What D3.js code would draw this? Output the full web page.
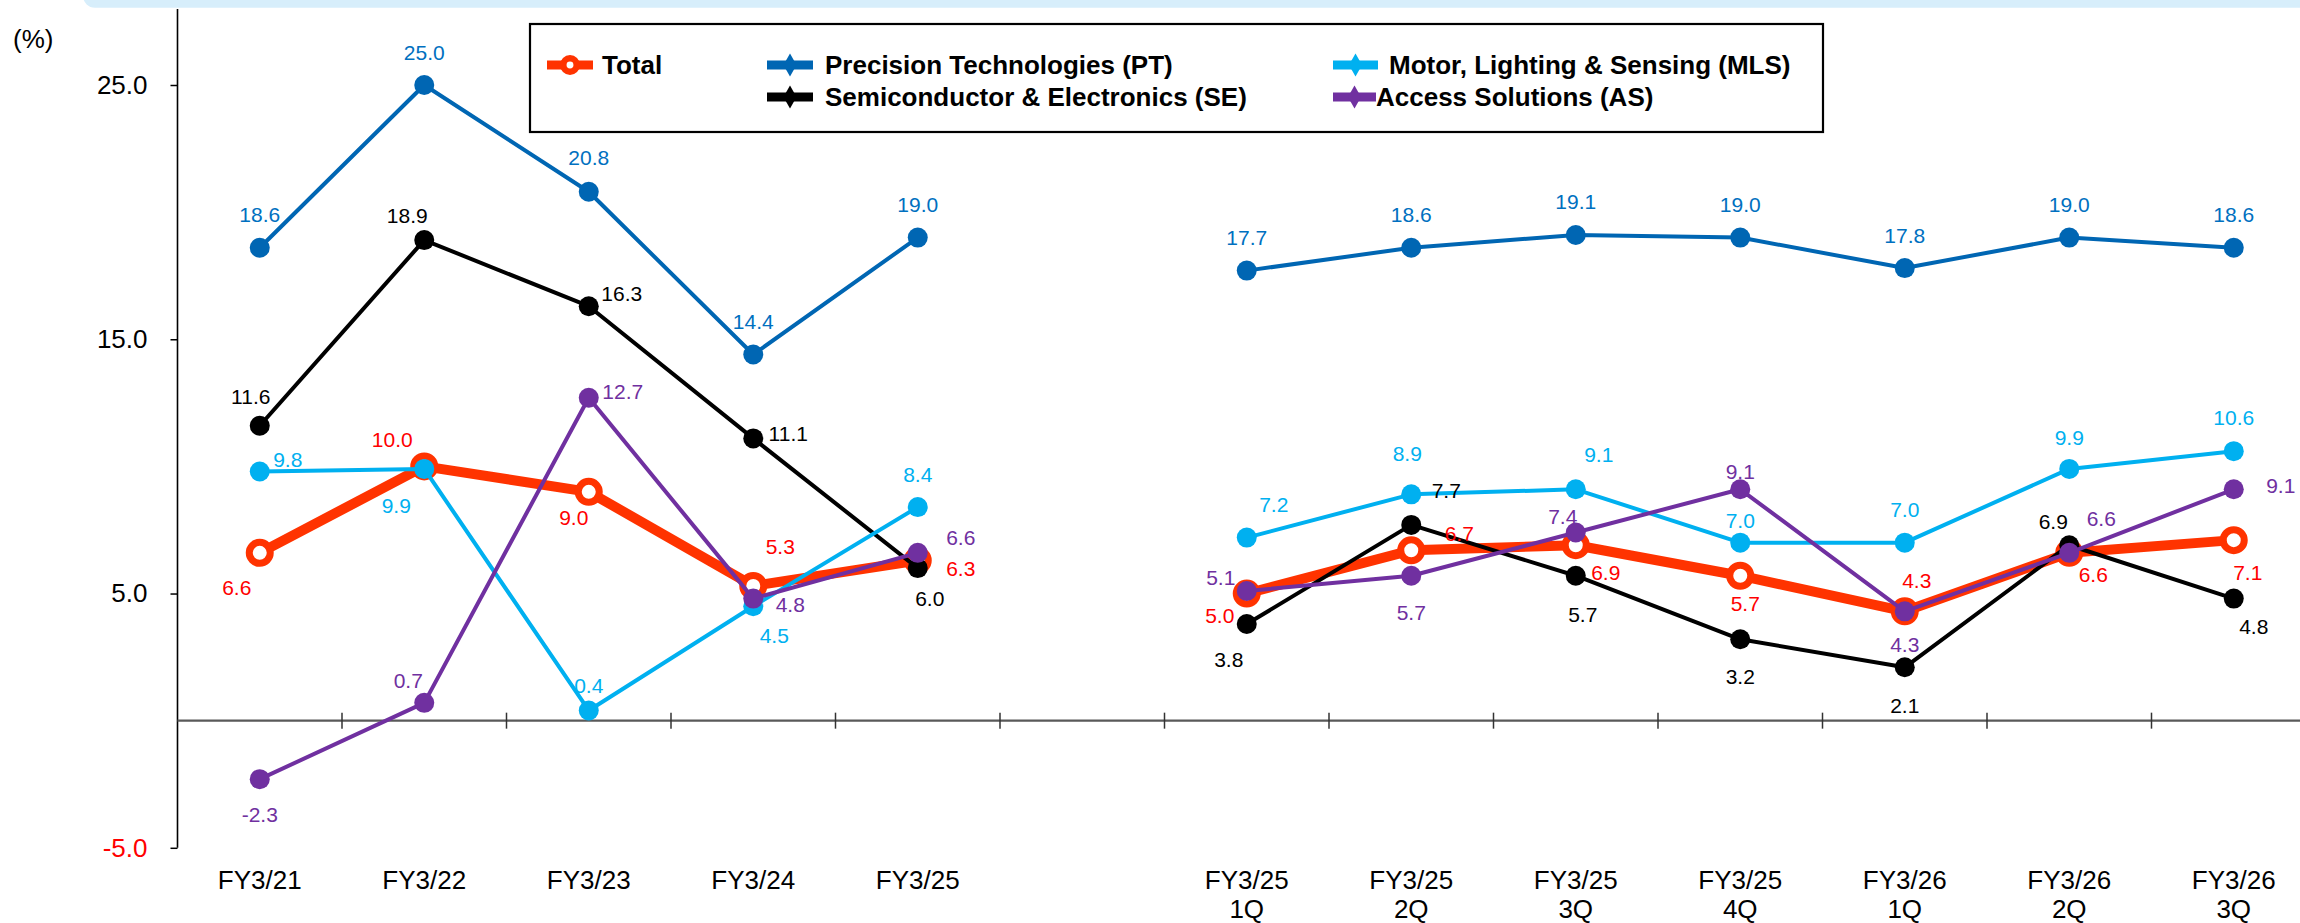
<!DOCTYPE html>
<html><head><meta charset="utf-8">
<script src="https://cdn.jsdelivr.net/npm/d3@7"></script>
<style>html,body{margin:0;padding:0;background:#fff;overflow:hidden}</style>
</head><body>
<svg id="chart" width="2300" height="923"></svg>
<script>
// ---------------- DATA ----------------
const categories = ["FY3/21","FY3/22","FY3/23","FY3/24","FY3/25","gap",
  "FY3/25 1Q","FY3/25 2Q","FY3/25 3Q","FY3/25 4Q","FY3/26 1Q","FY3/26 2Q","FY3/26 3Q"];
const categoryLabels = [["FY3/21"],["FY3/22"],["FY3/23"],["FY3/24"],["FY3/25"],[],
  ["FY3/25","1Q"],["FY3/25","2Q"],["FY3/25","3Q"],["FY3/25","4Q"],["FY3/26","1Q"],["FY3/26","2Q"],["FY3/26","3Q"]];
const totalValues = [6.6,10.0,9.0,5.3,6.3,null,5.0,6.7,6.9,5.7,4.3,6.6,7.1];
const ptValues    = [18.6,25.0,20.8,14.4,19.0,null,17.7,18.6,19.1,19.0,17.8,19.0,18.6];
const seValues    = [11.6,18.9,16.3,11.1,6.0,null,3.8,7.7,5.7,3.2,2.1,6.9,4.8];
const mlsValues   = [9.8,9.9,0.4,4.5,8.4,null,7.2,8.9,9.1,7.0,7.0,9.9,10.6];
const asValues    = [-2.3,0.7,12.7,4.8,6.6,null,5.1,5.7,7.4,9.1,4.3,6.6,9.1];
const yTickValues = [-5,5,15,25];
const seriesNames = ["Total","Precision Technologies (PT)","Semiconductor & Electronics (SE)",
  "Motor, Lighting & Sensing (MLS)","Access Solutions (AS)"];
const unitLabel = "(%)";

// ---------------- LAYOUT / STYLE ----------------
const W = 2300, H = 923;
const FONT = "'Liberation Sans', Arial, Helvetica, sans-serif";
const styles = {
  Total: {line:"#FF3300", label:"#FF0000", width:10, open:true},
  PT:    {line:"#0066B3", label:"#0070C0", width:4},
  SE:    {line:"#000000", label:"#000000", width:4},
  MLS:   {line:"#00B0F0", label:"#00B0F0", width:4},
  AS:    {line:"#7030A0", label:"#7030A0", width:4}
};
// label offsets (dx, dy of text centre from the point)
const labelOffsets = {
  Total: [[-23,35],[-32,-27],[-15,26],[27,-39],[43,8],null,[-27,22],[48,-17],[30,27],[5,28],[12,-31],[24,22],[14,32]],
  PT:    [[0,-33],[0,-33],[0,-34],[0,-33],[0,-33],null,[0,-33],[0,-33],[0,-34],[0,-33],[0,-33],[0,-33],[0,-33]],
  SE:    [[-9,-29],[-17,-25],[33,-13],[35,-5],[12,30],null,[-18,35],[35,-34],[7,39],[0,37],[0,38],[-16,-24],[20,28]],
  MLS:   [[28,-12],[-28,36],[0,-25],[21,29],[0,-33],null,[27,-33],[-4,-41],[23,-35],[0,-22],[0,-33],[0,-32],[0,-34]],
  AS:    [[0,35],[-16,-22],[34,-6],[37,6],[43,-15],null,[-26,-14],[0,37],[-13,-16],[0,-18],[0,33],[32,-34],[47,-4]]
};

const svg = d3.select("#chart");

// top banner
svg.append("rect").attr("x",83).attr("y",-30).attr("width",2300).attr("height",37.7)
  .attr("rx",12).attr("fill","#D7EEFB");

const x = d3.scaleBand().domain(categories).range([177.5, 177.5 + 164.5*categories.length]).padding(0);
const y = d3.scaleLinear().domain([-5,25]).range([847.8,85]);
const cx = c => x(c) + x.bandwidth()/2;

// y axis
const yAxisG = svg.append("g").attr("transform","translate(177.5,0)")
  .call(d3.axisLeft(y).tickValues(yTickValues).tickSize(7).tickPadding(23)
    .tickFormat(d => d.toFixed(1)));
yAxisG.select(".domain").remove();
yAxisG.selectAll(".tick line").attr("stroke","#000").attr("stroke-width",1.5);
yAxisG.selectAll(".tick text").attr("font-family",FONT).attr("font-size",26)
  .attr("fill", d => d < 0 ? "#FF0000" : "#000");
svg.append("line").attr("x1",177.5).attr("x2",177.5).attr("y1",9).attr("y2",y(-5))
  .attr("stroke","#000").attr("stroke-width",1.6);

svg.append("text").attr("x",13).attr("y",48).attr("font-family",FONT).attr("font-size",26)
  .text(unitLabel);

// x axis at zero
const y0 = y(0);
svg.append("line").attr("x1",177.5).attr("x2",W).attr("y1",y0).attr("y2",y0)
  .attr("stroke","#595959").attr("stroke-width",2.2);
svg.append("g").selectAll("line").data(categories.slice(1)).join("line")
  .attr("x1",d=>x(d)).attr("x2",d=>x(d)).attr("y1",y0-8).attr("y2",y0+8)
  .attr("stroke","#333").attr("stroke-width",1.5);
const xl = svg.append("g").selectAll("text").data(categories).join("text")
  .attr("x",d=>cx(d)).attr("y",889).attr("text-anchor","middle")
  .attr("font-family",FONT).attr("font-size",26).attr("fill","#000");
xl.each(function(d,i){
  const t = d3.select(this);
  categoryLabels[i].forEach((s,j)=>{
    t.append("tspan").attr("x",cx(d)).attr("dy", j===0?0:29).text(s);
  });
});

// series
const series = [
  {key:"Total", values: totalValues},
  {key:"PT", values: ptValues},
  {key:"SE", values: seValues},
  {key:"MLS", values: mlsValues},
  {key:"AS", values: asValues}
];
const line = d3.line().defined(d => d.v != null).x(d => cx(d.c)).y(d => y(d.v));

series.forEach(s => {
  const st = styles[s.key];
  const pts = s.values.map((v,i)=>({c:categories[i], v}));
  const g = svg.append("g");
  g.append("path").datum(pts).attr("d",line).attr("fill","none")
    .attr("stroke",st.line).attr("stroke-width",st.width).attr("stroke-linejoin","round");
  g.selectAll("circle").data(pts.filter(d=>d.v!=null)).join("circle")
    .attr("cx",d=>cx(d.c)).attr("cy",d=>y(d.v))
    .attr("r", st.open ? 10.5 : 10)
    .attr("fill", st.open ? "#fff" : st.line)
    .attr("stroke", st.open ? st.line : "none")
    .attr("stroke-width", st.open ? 7 : 0);
});

// labels on top
series.forEach(s => {
  const st = styles[s.key];
  const offs = labelOffsets[s.key];
  const pts = s.values.map((v,i)=>({c:categories[i], v, o:offs[i]})).filter(d=>d.v!=null);
  svg.append("g").selectAll("text").data(pts).join("text")
    .attr("x",d=>cx(d.c)+d.o[0]).attr("y",d=>y(d.v)+d.o[1])
    .attr("dy","0.36em").attr("text-anchor","middle")
    .attr("font-family",FONT).attr("font-size",21).attr("fill",st.label)
    .text(d=>d.v.toFixed(1));
});

// legend
const legendItems = [
  {key:"Total", name:seriesNames[0], x1:547, x2:593, tx:602, ty:65},
  {key:"PT",    name:seriesNames[1], x1:767, x2:813, tx:825, ty:65},
  {key:"SE",    name:seriesNames[2], x1:767, x2:813, tx:825, ty:97},
  {key:"MLS",   name:seriesNames[3], x1:1333, x2:1378, tx:1389, ty:65},
  {key:"AS",    name:seriesNames[4], x1:1333, x2:1376, tx:1376, ty:97}
];
svg.append("rect").attr("x",530).attr("y",24).attr("width",1293).attr("height",108)
  .attr("fill","#fff").attr("stroke","#000").attr("stroke-width",2.2);
const lg = svg.append("g");
legendItems.forEach(it => {
  const st = styles[it.key];
  lg.append("line").attr("x1",it.x1).attr("x2",it.x2).attr("y1",it.ty).attr("y2",it.ty)
    .attr("stroke",st.line).attr("stroke-width",9);
  const mx = (it.x1+it.x2)/2;
  if (st.open) {
    lg.append("circle").attr("cx",mx).attr("cy",it.ty).attr("r",6.7)
      .attr("fill","#fff").attr("stroke",st.line).attr("stroke-width",6.5);
  } else {
    lg.append("path").attr("d", d3.symbol(d3.symbolDiamond, 150)())
      .attr("transform",`translate(${mx},${it.ty})`).attr("fill",st.line);
  }
  lg.append("text").attr("x",it.tx).attr("y",it.ty).attr("dy","0.36em")
    .attr("font-family",FONT).attr("font-size",26).attr("font-weight","bold")
    .attr("fill","#000").text(it.name);
});
</script>
</body></html>
